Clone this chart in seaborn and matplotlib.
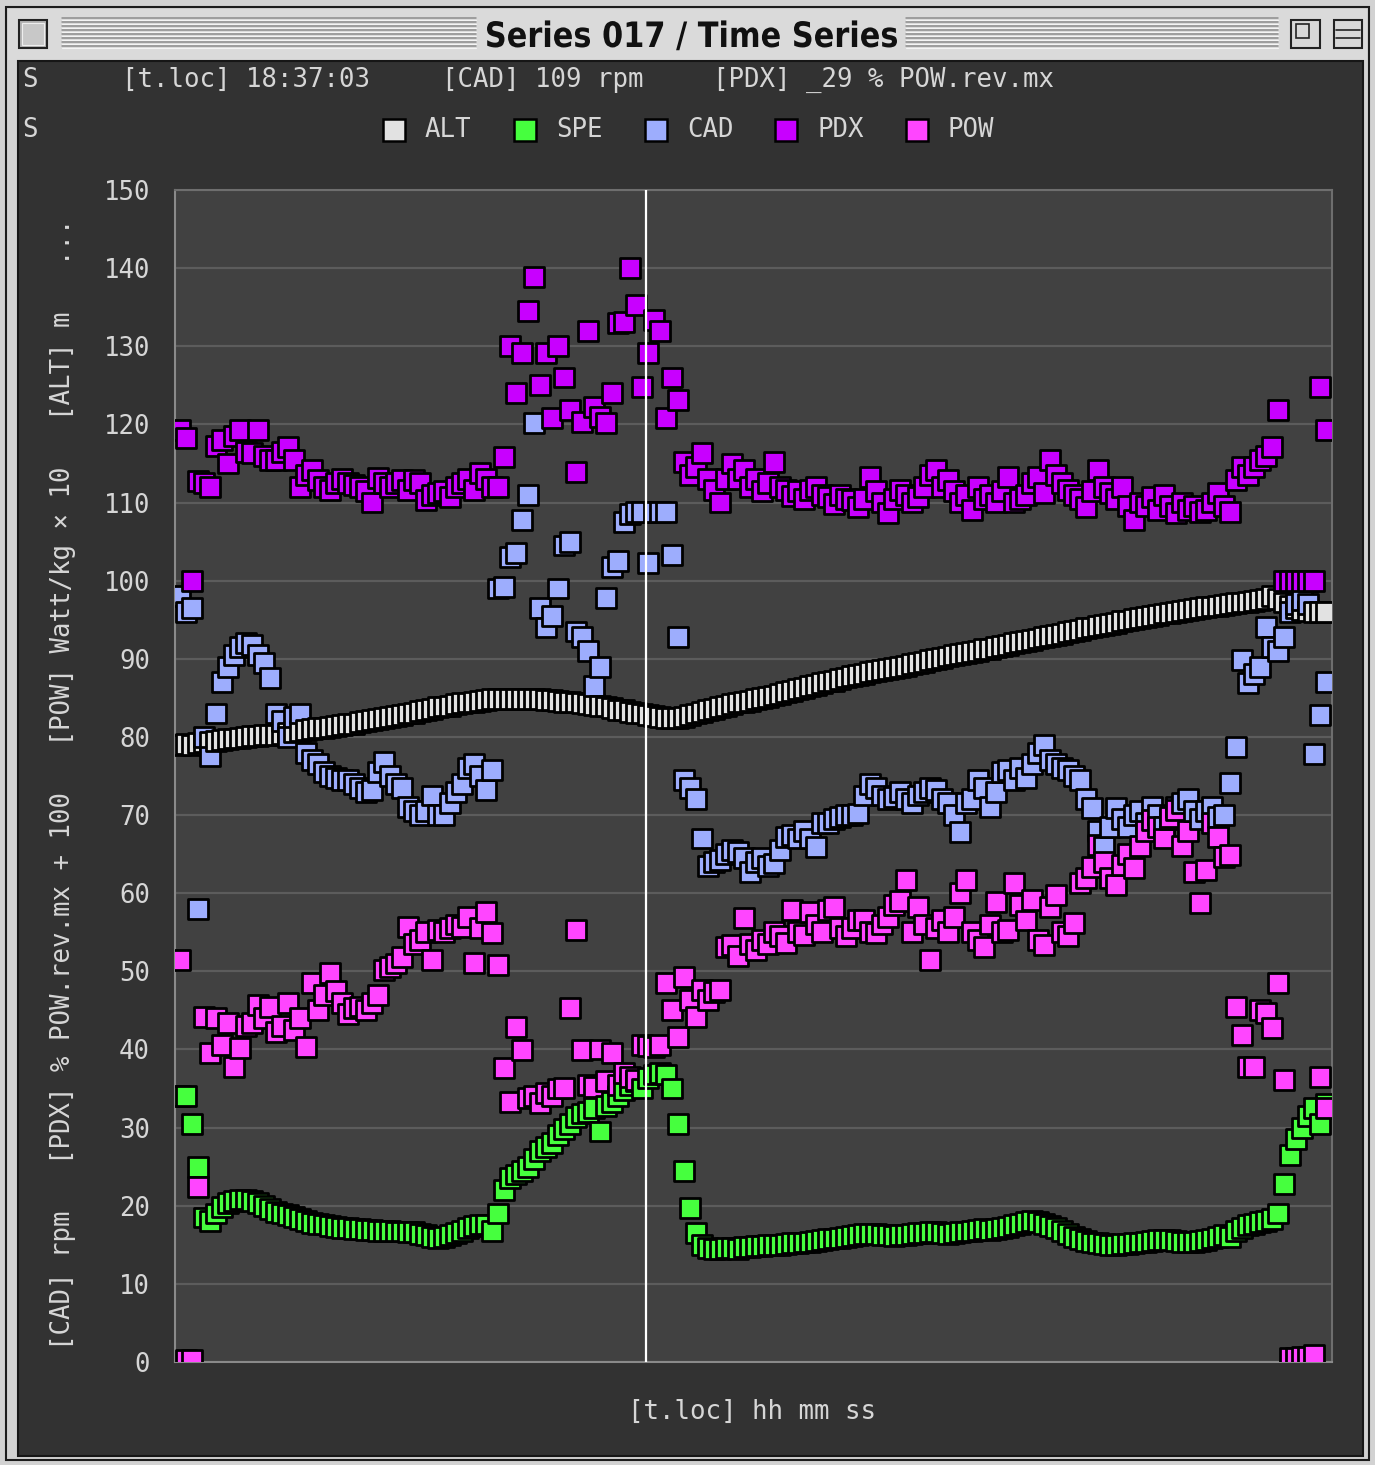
import numpy as np
import pandas as pd
import matplotlib
matplotlib.use('Agg')
import matplotlib.pyplot as plt
from matplotlib.patches import Rectangle, PathPatch
from matplotlib.lines import Line2D
from matplotlib.textpath import TextPath
from matplotlib.font_manager import FontProperties
from matplotlib.transforms import Affine2D, IdentityTransform
import seaborn as sns

# series names / colours
names = ['ALT', 'SPE', 'CAD', 'PDX', 'POW']
colors = {'ALT': '#e2e2e2', 'SPE': '#46ff3e', 'CAD': '#9dadfd', 'PDX': '#c800ff', 'POW': '#ff45ff'}

# one value per sample
alt = [79.0, 79.1, 79.0, 79.2, 79.3, 79.4, 79.5, 79.6, 79.7, 79.8,
       79.9, 80.0, 80.1, 80.1, 80.2, 80.3, 80.3, 80.4, 80.5, 80.6,
       80.8, 80.9, 81.0, 81.1, 81.2, 81.3, 81.4, 81.5, 81.6, 81.7,
       81.9, 82.0, 82.2, 82.3, 82.4, 82.6, 82.7, 82.8, 83.0, 83.1,
       83.3, 83.4, 83.6, 83.8, 83.9, 84.0, 84.2, 84.3, 84.4, 84.5,
       84.6, 84.7, 84.8, 84.8, 84.9, 84.9, 84.9, 84.9, 84.8, 84.8,
       84.8, 84.7, 84.7, 84.6, 84.5, 84.5, 84.4, 84.3, 84.2, 84.1,
       84.0, 83.9, 83.7, 83.5, 83.4, 83.2, 83.1, 83.0, 82.8, 82.7,
       82.5, 82.4, 82.4, 82.4, 82.5, 82.8, 83.0, 83.2, 83.4, 83.6,
       83.8, 84.0, 84.2, 84.4, 84.5, 84.6, 84.8, 85.0, 85.1, 85.3,
       85.5, 85.7, 85.9, 86.1, 86.3, 86.5, 86.7, 86.9, 87.1, 87.2,
       87.4, 87.6, 87.8, 87.9, 88.1, 88.3, 88.4, 88.6, 88.7, 88.8,
       89.0, 89.1, 89.3, 89.5, 89.6, 89.8, 90.0, 90.1, 90.3, 90.5,
       90.6, 90.7, 90.9, 91.0, 91.2, 91.3, 91.5, 91.6, 91.8, 92.0,
       92.1, 92.3, 92.4, 92.6, 92.8, 92.9, 93.1, 93.2, 93.4, 93.6,
       93.7, 93.9, 94.0, 94.2, 94.3, 94.5, 94.6, 94.8, 94.9, 95.1,
       95.2, 95.4, 95.5, 95.6, 95.8, 95.9, 96.0, 96.1, 96.3, 96.4,
       96.5, 96.6, 96.7, 96.8, 96.9, 97.0, 97.1, 97.2, 97.3, 97.4,
       97.5, 97.7, 98.0, 97.6, 97.2, 96.8, 96.5, 96.3, 96.1, 96.0,
       96.0, 96.0]

spe = [34.0, 34.0, 30.5, 25.0, 18.5, 18.0, 19.0, 19.8, 20.3, 20.6,
       20.8, 20.8, 20.6, 20.4, 20.0, 19.6, 19.2, 19.0, 18.8, 18.6,
       18.3, 18.0, 17.8, 17.7, 17.6, 17.4, 17.3, 17.2, 17.1, 17.0,
       17.0, 16.9, 16.9, 16.8, 16.8, 16.8, 16.7, 16.7, 16.6, 16.6,
       16.4, 16.2, 16.0, 15.9, 16.0, 16.2, 16.5, 16.8, 17.2, 17.4,
       17.6, 17.6, 16.8, 19.0, 22.0, 23.5, 24.0, 24.5, 25.0, 26.0,
       27.0, 27.5, 28.0, 29.0, 29.8, 30.5, 31.3, 31.8, 32.0, 32.5,
       29.5, 32.8, 33.3, 34.0, 34.8, 35.5, 36.0, 35.0, 36.3, 36.8,
       37.0, 36.8, 35.0, 30.5, 24.5, 19.7, 16.5, 15.0, 14.6, 14.5,
       14.5, 14.6, 14.6, 14.5, 14.7, 14.7, 14.8, 14.9, 15.0, 15.0,
       15.0, 15.1, 15.2, 15.2, 15.3, 15.4, 15.5, 15.6, 15.7, 15.8,
       15.9, 16.0, 16.1, 16.3, 16.4, 16.4, 16.4, 16.3, 16.2, 16.1,
       16.2, 16.3, 16.4, 16.5, 16.5, 16.6, 16.6, 16.5, 16.4, 16.5,
       16.6, 16.7, 16.8, 16.9, 17.0, 16.9, 17.0, 17.2, 17.3, 17.5,
       17.7, 17.9, 18.0, 17.9, 17.7, 17.4, 17.1, 16.8, 16.4, 16.0,
       15.7, 15.5, 15.3, 15.2, 15.1, 15.0, 15.0, 15.1, 15.1, 15.2,
       15.3, 15.4, 15.5, 15.6, 15.6, 15.6, 15.5, 15.4, 15.4, 15.4,
       15.5, 15.6, 15.8, 16.0, 16.2, 16.0, 16.8, 17.2, 17.5, 17.7,
       17.9, 18.0, 18.3, 19.0, 22.8, 26.5, 28.5, 30.0, 31.5, 32.5,
       30.5, 33.0]

cad = [98.0, 96.0, 96.5, 58.0, 80.0, 77.5, 83.0, 87.0, 89.0, 90.5,
       91.5, 92.0, 91.8, 90.5, 89.5, 87.5, 83.0, 82.0, 80.0, 82.5,
       83.0, 78.0, 77.0, 76.5, 75.5, 75.0, 74.8, 74.5, 74.5, 74.0,
       73.5, 73.0, 73.2, 75.5, 76.8, 75.0, 74.0, 73.5, 71.0, 70.5,
       70.0, 70.5, 72.5, 70.0, 70.0, 71.5, 73.0, 74.0, 76.0, 76.5,
       75.0, 73.2, 75.8, 99.0, 99.2, 103.0, 103.5, 107.8, 111.0, 120.2,
       96.5, 94.0, 95.5, 99.0, 104.5, 105.0, 93.5, 92.8, 91.0, 86.5,
       89.0, 97.8, 101.8, 102.5, 107.5, 108.5, 108.8, 108.8, 102.3, 108.8,
       108.8, 108.8, 103.3, 92.8, 74.5, 73.5, 72.0, 67.0, 63.5, 64.0,
       64.2, 65.0, 65.5, 65.3, 64.5, 62.7, 64.0, 64.5, 63.5, 63.8,
       65.5, 67.2, 67.5, 67.0, 68.0, 67.0, 65.9, 69.0, 69.0, 69.5,
       69.8, 70.0, 70.0, 70.2, 72.5, 74.0, 73.5, 72.5, 72.0, 72.3,
       73.0, 72.0, 71.5, 72.5, 73.0, 73.5, 73.2, 72.0, 71.5, 70.0,
       67.8, 71.5, 72.0, 74.5, 73.5, 71.0, 73.0, 75.5, 75.8, 74.5,
       76.0, 74.7, 76.5, 78.0, 79.0, 77.0, 76.5, 76.0, 75.8, 75.0,
       74.5, 72.0, 70.9, 68.0, 65.9, 68.5, 70.9, 69.5, 68.5, 70.0,
       70.5, 69.0, 71.0, 70.0, 68.5, 69.5, 71.0, 71.5, 72.0, 70.5,
       69.5, 70.5, 71.0, 69.8, 70.0, 74.1, 78.7, 89.9, 86.9, 88.0,
       89.0, 94.1, 91.5, 91.0, 92.8, 96.0, 97.0, 97.5, 97.0, 77.8,
       82.8, 87.0]

pdx = [119.3, 118.3, 100.0, 112.8, 112.5, 112.0, 117.2, 118.0, 115.0, 118.5,
       119.3, 116.5, 116.3, 119.3, 116.0, 115.5, 115.4, 116.5, 117.1, 115.4,
       112.0, 113.5, 114.2, 112.9, 112.0, 111.6, 112.5, 113.0, 112.5, 112.2,
       112.0, 111.5, 110.0, 113.1, 112.5, 112.0, 112.5, 112.9, 111.6, 112.9,
       112.5, 110.3, 111.0, 111.2, 111.5, 110.7, 112.0, 112.5, 113.0, 111.6,
       113.8, 113.0, 112.0, 112.0, 115.8, 130.0, 124.0, 129.1, 134.5, 138.9,
       125.0, 129.1, 120.8, 130.0, 126.0, 121.8, 113.9, 120.3, 132.0, 122.2,
       121.0, 120.2, 124.0, 133.0, 133.1, 140.0, 135.3, 124.8, 129.1, 133.4,
       132.0, 120.8, 126.0, 123.1, 115.2, 113.5, 114.5, 116.3, 113.0, 111.6,
       110.0, 113.0, 115.0, 113.0, 114.2, 112.0, 113.0, 111.5, 112.5, 115.2,
       112.0, 111.6, 110.8, 111.5, 110.5, 111.6, 112.0, 111.0, 110.7, 109.8,
       111.0, 110.5, 110.3, 109.4, 110.5, 113.3, 111.5, 110.0, 108.7, 110.5,
       111.6, 111.0, 110.0, 110.7, 112.0, 113.5, 114.2, 112.0, 112.9, 111.5,
       110.0, 111.0, 109.0, 112.0, 110.5, 111.0, 110.0, 111.5, 113.3, 110.0,
       110.5, 111.0, 112.5, 113.3, 111.2, 115.4, 113.5, 112.5, 111.6, 111.0,
       110.5, 109.4, 111.5, 114.2, 112.0, 111.2, 110.5, 112.0, 109.5, 107.8,
       110.0, 109.5, 110.7, 109.0, 111.0, 109.5, 108.7, 110.0, 109.0, 109.5,
       108.8, 109.0, 110.0, 111.2, 109.5, 108.8, 112.9, 114.5, 113.5, 114.5,
       115.5, 116.0, 117.1, 121.8, 100.0, 100.0, 100.0, 100.0, 100.0, 100.0,
       124.8, 119.3]

pow_ = [51.5, 0.3, 0.3, 22.4, 44.2, 39.5, 44.0, 40.6, 43.4, 37.8,
        40.2, 43.0, 43.4, 45.7, 44.0, 45.4, 42.2, 43.0, 46.0, 42.5,
        44.0, 40.3, 48.5, 45.0, 47.0, 49.8, 47.5, 46.0, 44.5, 45.3,
        45.5, 45.0, 46.0, 47.0, 50.2, 50.5, 51.0, 51.8, 55.7, 53.5,
        54.0, 55.0, 51.5, 55.3, 55.0, 55.5, 56.0, 55.7, 57.0, 51.1,
        55.5, 57.6, 54.9, 50.8, 37.6, 33.3, 42.9, 39.9, 33.8, 34.0,
        33.1, 34.4, 34.0, 35.0, 35.1, 45.3, 55.3, 39.9, 35.5, 35.2,
        40.0, 36.0, 39.5, 35.4, 37.0, 36.5, 36.1, 40.6, 40.5, 40.3,
        40.6, 48.5, 45.0, 41.6, 49.3, 46.3, 44.2, 47.6, 46.3, 47.4,
        47.6, 53.1, 53.4, 52.0, 56.8, 53.5, 52.7, 54.0, 53.5, 55.0,
        54.5, 53.6, 57.9, 55.0, 54.7, 57.6, 56.0, 55.0, 57.9, 58.2,
        55.5, 54.5, 55.5, 56.6, 56.6, 55.0, 54.9, 56.0, 57.0, 58.5,
        59.0, 61.7, 55.0, 58.2, 56.0, 51.5, 55.5, 56.6, 55.0, 57.0,
        60.0, 61.7, 55.0, 54.0, 53.1, 56.0, 58.9, 55.0, 55.3, 61.3,
        58.5, 56.5, 59.1, 54.0, 53.4, 58.2, 59.8, 55.0, 54.5, 56.2,
        61.3, 62.0, 63.4, 66.2, 64.0, 62.0, 61.1, 63.6, 65.0, 63.2,
        66.0, 68.0, 69.4, 68.5, 67.0, 69.8, 70.7, 66.0, 68.0, 62.7,
        58.7, 63.0, 69.0, 67.2, 64.6, 64.9, 45.4, 41.9, 37.8, 37.8,
        45.0, 44.7, 42.7, 48.5, 36.1, 0.5, 0.5, 0.6, 0.6, 0.9,
        36.5, 32.5]

cursor_sample = 77.7
yticks = list(range(0, 151, 10))

series = [alt, spe, cad, pdx, pow_]
for s in series:
    assert len(s) == len(alt), len(s)

n = len(alt)
sample = np.arange(n)
# long table, ordered by time step then series (so squares overlap like the original)
df = pd.DataFrame({
    'sample': np.repeat(sample, len(names)),
    'series': np.tile(names, n),
    'value': np.column_stack(series).ravel(),
})

W, H = 1375, 1465
mono = 'DejaVu Sans Mono'
fs = 18.5
txt_col = '#d6d6d6'

sns.set_style('dark')
fig = plt.figure(figsize=(W / 100, H / 100), dpi=100, facecolor='#d2d2d2')


def box(x0, y0, x1, y1, fc, ec='none', lw=0.0, z=0):
    fig.add_artist(Rectangle((x0 / W, 1 - y1 / H), (x1 - x0) / W, (y1 - y0) / H,
                             transform=fig.transFigure, fc=fc, ec=ec, lw=lw, zorder=z))


def hline(x0, x1, y, color, lw):
    fig.add_artist(Line2D([x0 / W, x1 / W], [1 - y / H, 1 - y / H],
                          transform=fig.transFigure, color=color, lw=lw))


def ftext(x, y, s, **kw):
    fig.text(x / W, 1 - y / H, s, **kw)


# window frame + title bar
box(6, 7, 1369, 1460, '#d2d2d2', ec='#1c1c1c', lw=1.5)
box(8, 9, 1367, 60, '#dadada')
for y in range(18, 50, 4):
    hline(62, 476, y, '#8c8c8c', 1.1)
    hline(62, 476, y + 1.5, '#f4f4f4', 0.8)
    hline(906, 1278, y, '#8c8c8c', 1.1)
    hline(906, 1278, y + 1.5, '#f4f4f4', 0.8)
box(19, 20, 47, 48, '#b4b4b4', ec='#222222', lw=1.5)
box(22, 23, 44, 45, '#c8c8c8', ec='#eeeeee', lw=0.8)
box(1291, 20, 1320, 48, '#d8d8d8', ec='#222222', lw=1.5)
box(1296, 24, 1309, 38, '#d8d8d8', ec='#222222', lw=1.2)
box(1334, 20, 1362, 48, '#d8d8d8', ec='#222222', lw=1.5)
hline(1336, 1360, 30, '#222222', 1.2)
hline(1336, 1360, 38, '#222222', 1.2)

# condensed bold title: squeeze the glyph outlines to the width of the original
tp = TextPath((0, 0), 'Series 017 / Time Series', size=35,
              prop=FontProperties(family='DejaVu Sans', weight='bold'))
ext = tp.get_extents()
sx = 410 / ext.width
tr = Affine2D().translate(-ext.x0, 0).scale(sx, 1.0).translate(487, H - 47)
fig.add_artist(PathPatch(tp, transform=tr + IdentityTransform(), fc='#111111', ec='none'))

# dark content area
box(18, 61, 1363, 1456, '#323232', ec='#161616', lw=1.5)

# header rows
ftext(22, 80, 'S', family=mono, size=fs, color=txt_col, va='center')
ftext(122, 80, '[t.loc] 18:37:03', family=mono, size=fs, color=txt_col, va='center')
ftext(442, 80, '[CAD] 109 rpm', family=mono, size=fs, color=txt_col, va='center')
ftext(713, 80, '[PDX] _29 % POW.rev.mx', family=mono, size=fs, color=txt_col, va='center')
ftext(22, 130, 'S', family=mono, size=fs, color=txt_col, va='center')

legend_x = [383, 514, 645, 775, 906]
for name, lx in zip(names, legend_x):
    box(lx, 119, lx + 22, 141, colors[name], ec='#000000', lw=1.8, z=3)
    ftext(lx + 42, 130, name, family=mono, size=fs, color=txt_col, va='center')

# plot area
ax = fig.add_axes([175 / W, 1 - 1362 / H, 1157 / W, 1172 / H])
ax.set_facecolor('#414141')
sns.scatterplot(data=df, x='sample', y='value', hue='series', palette=colors,
                hue_order=names, marker='s', s=205, edgecolor='#000000',
                linewidth=2.0, legend=False, ax=ax, zorder=3)
ax.axvline(cursor_sample, color='#ffffff', lw=1.6, zorder=5)

ax.set_xlim(-0.83, 192)
ax.set_ylim(0, 150)
ax.set_yticks(yticks)
ax.set_xticks([])
ax.yaxis.grid(True, color='#5c5c5c', lw=1.6)
ax.xaxis.grid(False)
ax.set_axisbelow(True)
ax.tick_params(axis='y', length=0, pad=18, labelsize=fs, labelcolor=txt_col)
for lab in ax.get_yticklabels():
    lab.set_family(mono)
for sp in ax.spines.values():
    sp.set_visible(True)
    sp.set_color('#6e6e6e')
    sp.set_linewidth(1.5)
ax.spines['left'].set_color('#8a8a8a')
ax.spines['bottom'].set_color('#8a8a8a')
ax.set_xlabel('')
ax.set_ylabel('')

ftext(63, 1350, '[CAD] rpm   [PDX] % POW.rev.mx + 100   [POW] Watt/kg \u00d7 10   [ALT] m   ...',
      family=mono, size=fs, color=txt_col, rotation=90, ha='center', va='bottom')
ftext(752, 1412, '[t.loc] hh mm ss', family=mono, size=fs, color=txt_col, ha='center', va='center')

fig.savefig('out.png', dpi=100, facecolor=fig.get_facecolor())
